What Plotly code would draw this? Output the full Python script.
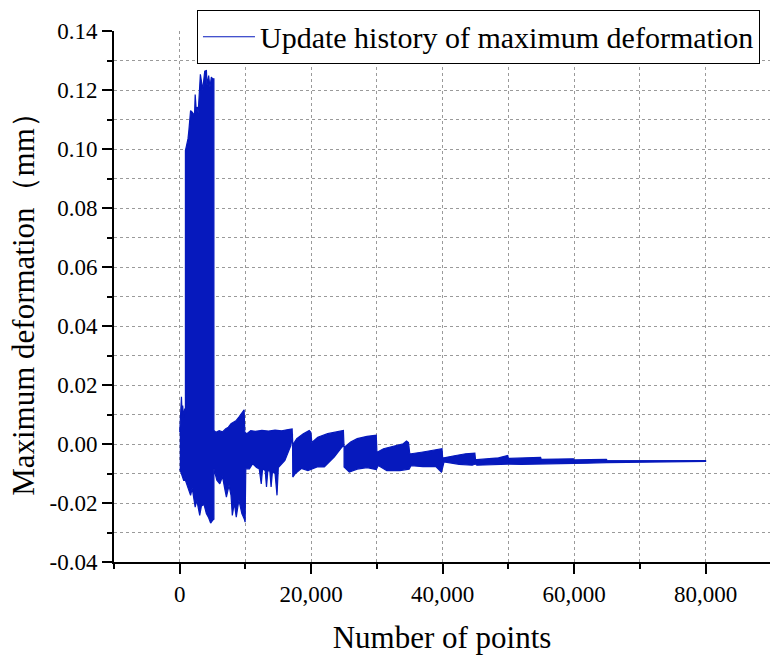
import plotly.graph_objects as go

# Envelope of the maximum-deformation update history (x = number of points, y = mm)
upper_x = [0, 100, 260, 350, 450, 600, 750, 866,
           866, 1000, 1260, 1400, 1650, 1900, 2050, 2250, 2350, 2500, 2700, 2800,
           3140, 3300, 3500, 3800, 4060, 4150, 4400, 4600, 4810, 5000, 5200,
           5200, 5500, 6000, 6500, 7000, 7400, 7800, 8200, 8600, 9000, 9400, 9800, 9900,
           10200, 10800, 11500, 12500, 13500, 14500, 15500, 16500, 17100, 17200,
           17300, 17800, 18800, 19700, 19950,
           20100, 21000, 22500, 24000, 24900, 25000,
           25100, 26000, 27000, 28500, 29900, 30000,
           30100, 31000, 32500, 34000, 34500, 34800, 35000,
           35200, 37000, 38500, 39900, 40000,
           40200, 42000, 43500, 44900, 45000,
           45200, 47000, 48500, 49900, 50000,
           50200, 54900, 55000, 59900, 60000, 64900, 65000, 70000, 80000]
upper_y = [0.004, 0.012, 0.016, 0.011, 0.013, 0.009, 0.012, 0.010,
           0.0995, 0.1008, 0.1035, 0.1065, 0.1130, 0.1125, 0.1120, 0.1114, 0.1185, 0.1137, 0.1142, 0.1120,
           0.1253, 0.1223, 0.1201, 0.1264, 0.1266, 0.1216, 0.1249, 0.1210, 0.1244, 0.1238, 0.1238,
           0.0046, 0.0040, 0.0045, 0.0041, 0.0052, 0.0057, 0.0069, 0.0074, 0.0080, 0.0091, 0.0103, 0.0116, 0.0040,
           0.0035, 0.0045, 0.0043, 0.0046, 0.0044, 0.0047, 0.0045, 0.0049, 0.0051, 0.0000,
           0.0001, 0.0018, 0.0035, 0.0046, 0.0040,
           0.0005, 0.0023, 0.0035, 0.0042, 0.0046, -0.0010,
           -0.0010, 0.0007, 0.0018, 0.0026, 0.0030, -0.0027,
           -0.0027, -0.0016, -0.0008, 0.0001, 0.0010, 0.0005, -0.0033,
           -0.0033, -0.0027, -0.0022, -0.0016, -0.0047,
           -0.0047, -0.0039, -0.0033, -0.0031, -0.0053,
           -0.0053, -0.0050, -0.0047, -0.0039, -0.0049,
           -0.0049, -0.0045, -0.0052, -0.0050, -0.0054, -0.0052, -0.0055, -0.0055, -0.0056]

lower_x = [0, 200, 450, 600, 866, 1260, 1650, 1900, 2350, 2600, 3040, 3300, 3700, 4050, 4400, 4700, 5000, 5200,
           5200, 5650, 6100, 6500, 6850, 7100, 7500, 7800, 8000, 8300, 8600, 9000, 9450, 9800, 9950,
           10050, 10600, 11100, 11700, 12100, 12400, 12600, 13000, 13200, 13400, 13700, 13900, 14100, 14500,
           14800, 15000, 16000, 16900, 17150, 17200,
           17600, 18500, 19500, 19950,
           20200, 21000, 22000, 23500, 24700, 25000, 25000,
           25800, 27000, 28500, 29900,
           30200, 31500, 33500, 34900,
           35200, 37000, 39000, 39800, 40000,
           40200, 42500, 44500, 45000,
           45200, 47500, 50000,
           52000, 55000, 57000, 60000, 62000, 65000, 70000, 80000]
lower_y = [-0.0084, -0.0090, -0.0112, -0.0123, -0.0123, -0.0146, -0.0174, -0.0150, -0.0214, -0.0190,
           -0.0242, -0.0210, -0.0205, -0.0236, -0.0250, -0.0268, -0.0259, -0.0255,
           -0.0084, -0.0123, -0.0135, -0.0110, -0.0152, -0.0180, -0.0140, -0.0174, -0.0242, -0.0200,
           -0.0248, -0.0190, -0.0236, -0.0253, -0.0265,
           -0.0084, -0.0084, -0.0067, -0.0080, -0.0085, -0.0135, -0.0085, -0.0090, -0.0146, -0.0092,
           -0.0090, -0.0146, -0.0095, -0.0100,
           -0.0174, -0.0080, -0.0056, -0.0005, 0.0035, -0.0112,
           -0.0100, -0.0083, -0.0090, -0.0088,
           -0.0084, -0.0077, -0.0078, -0.0044, -0.0010, -0.0005, -0.0078,
           -0.0095, -0.0085, -0.0080, -0.0087,
           -0.0073, -0.0090, -0.0090, -0.0085,
           -0.0073, -0.0077, -0.0077, -0.0095, -0.0080,
           -0.0061, -0.0069, -0.0072, -0.0068,
           -0.0072, -0.0069, -0.0068,
           -0.0069, -0.0068, -0.0067, -0.0066, -0.0065, -0.0063, -0.0060, -0.0059]

x_ticks = [0, 20000, 40000, 60000, 80000]
x_tick_text = ["0", "20,000", "40,000", "60,000", "80,000"]
y_ticks = [-0.04, -0.02, 0.00, 0.02, 0.04, 0.06, 0.08, 0.10, 0.12, 0.14]
y_tick_text = ["-0.04", "-0.02", "0.00", "0.02", "0.04", "0.06", "0.08", "0.10", "0.12", "0.14"]

series_name = "Update history of maximum deformation"
blue = "#0619bd"
serif = "Liberation Serif, serif"

# Closed band: upper envelope forward, lower envelope back
band_x = upper_x + lower_x[::-1]
band_y = upper_y + lower_y[::-1]

fig = go.Figure()
fig.add_trace(go.Scatter(
    x=band_x, y=band_y, mode="lines", fill="toself", fillcolor=blue,
    line=dict(color=blue, width=1.2), showlegend=False, hoverinfo="skip",
))
# Legend entry drawn as a plain line
fig.add_trace(go.Scatter(
    x=[None], y=[None], mode="lines", name=series_name,
    line=dict(color=blue, width=1),
))

grid = dict(showgrid=True, gridcolor="#9a9a9a", gridwidth=1, griddash="dot")
tick_font = dict(family=serif, size=23, color="black")
title_font = dict(family=serif, size=31, color="black")

fig.update_layout(
    width=770, height=655,
    margin=dict(l=114, r=0, t=31, b=93),
    paper_bgcolor="white", plot_bgcolor="white",
    font=dict(family=serif, color="black", size=22),
    showlegend=True,
    legend=dict(
        x=0.1265, y=1.04, xanchor="left", yanchor="top",
        bgcolor="white", bordercolor="black", borderwidth=1,
        font=dict(family=serif, size=30, color="black"),
        itemwidth=52,
    ),
    xaxis=dict(
        range=[-10000, 89800],
        tickmode="array", tickvals=x_ticks, ticktext=x_tick_text,
        ticks="outside", ticklen=10, tickwidth=2, tickcolor="black",
        showline=True, linecolor="black", linewidth=2,
        zeroline=False,
        minor=dict(dtick=10000, tick0=0, ticks="outside", ticklen=5, tickwidth=2,
                   tickcolor="black", **grid),
        title=dict(text="Number of points", font=title_font, standoff=22),
        tickfont=tick_font,
        **grid,
    ),
    yaxis=dict(
        range=[-0.04, 0.14],
        tickmode="array", tickvals=y_ticks, ticktext=y_tick_text,
        ticks="outside", ticklen=10, tickwidth=2, tickcolor="black",
        showline=True, linecolor="black", linewidth=2,
        zeroline=False,
        minor=dict(dtick=0.01, tick0=0, ticks="outside", ticklen=5, tickwidth=2,
                   tickcolor="black", **grid),
        title=dict(text="Maximum deformation（mm）", font=title_font, standoff=6),
        tickfont=tick_font,
        **grid,
    ),
)

fig.write_html("out.html")
